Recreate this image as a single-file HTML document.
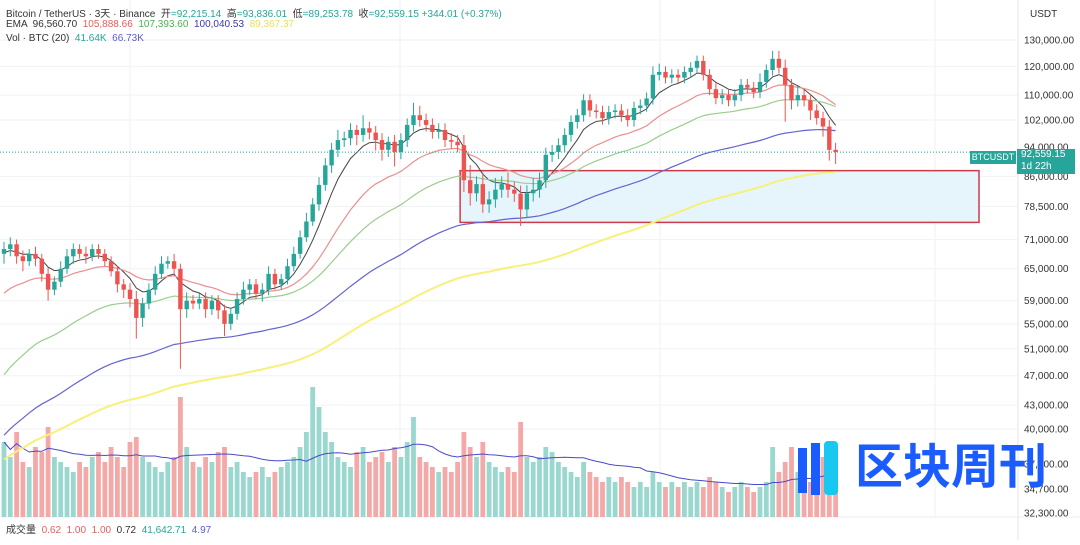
<!DOCTYPE html>
<html><head><meta charset="utf-8">
<style>
body{margin:0;background:#fff;width:1080px;height:540px;overflow:hidden;font-family:"Liberation Sans","Noto Sans CJK SC",sans-serif;}
#wrap{position:relative;width:1080px;height:540px;}
.hdr{position:absolute;left:6px;font-size:10px;color:#333;white-space:nowrap;}
</style></head>
<body>
<div id="wrap">
<svg id="chart" width="1080" height="540"></svg>
<div class="hdr" style="top:5px">Bitcoin / TetherUS · 3天 · Binance &nbsp;开<span style="color:#26a69a">=92,215.14</span> &nbsp;高<span style="color:#26a69a">=93,836.01</span> &nbsp;低<span style="color:#26a69a">=89,253.78</span> &nbsp;收<span style="color:#26a69a">=92,559.15</span> <span style="color:#26a69a">+344.01 (+0.37%)</span></div>
<div class="hdr" style="top:19px">EMA &nbsp;96,560.70 &nbsp;<span style="color:#e06060">105,888.66</span> &nbsp;<span style="color:#4caf50">107,393.60</span> &nbsp;<span style="color:#3838a8">100,040.53</span> &nbsp;<span style="color:#e8e060">89,367.37</span></div>
<div class="hdr" style="top:33px">Vol · BTC (20) &nbsp;<span style="color:#26a69a">41.64K</span> &nbsp;<span style="color:#5c5ccf">66.73K</span></div>
<div class="hdr" style="top:521px">成交量 &nbsp;<span style="color:#e06060">0.62</span> &nbsp;<span style="color:#e06060">1.00</span> &nbsp;<span style="color:#e06060">1.00</span> &nbsp;<span style="color:#333">0.72</span> &nbsp;<span style="color:#26a69a">41,642.71</span> &nbsp;<span style="color:#5c5ccf">4.97</span></div>
<div style="position:absolute;left:1026px;top:7px;font-size:10px;color:#333;background:#fff;padding:2px 4px">USDT</div>
<div style="position:absolute;left:970px;top:151px;width:46px;height:13px;background:#26a69a;color:#fff;font-size:9px;line-height:13px;text-align:center">BTCUSDT</div>
<div style="position:absolute;left:1017px;top:149px;width:58px;height:25px;background:#26a69a;color:#fff;font-size:10px;line-height:12px;padding-left:4px;box-sizing:border-box">92,559.15<br>1d 22h</div>
<div style="position:absolute;left:855px;top:440px;font-size:48px;font-weight:bold;color:#1a5cff;letter-spacing:0px;line-height:56px">区块周刊</div>
</div>
<script>
const closes=[69,70,67.5,66.5,68,67,64,61,62.5,65,67.5,69,68,67.5,69,68,66.5,64.5,62,61,59.3,56,58.5,61,64,66,66.5,65,57.5,59,58.5,59.3,57.5,59,57.3,55,56.7,59.3,61,62,60.3,61,64,62,63,65.5,68,71.5,75,79,83.8,88.9,93.2,96,96.5,99,97.5,99.5,98.2,96,93.2,95.5,92.6,96,100.5,103.5,102,100.5,98.4,99,96,95.5,94.5,85,81.7,84,79,80.2,82.6,84,82.6,81.6,77.8,81.7,82.6,85,91.8,92.6,94.5,97.5,101.4,103.5,108.3,105,104.5,102.6,104.5,105,103.5,102,105.8,106.6,108.9,117,118,116,117,116,118,119.5,122,117,112,109,110,108.3,110,113.5,112.5,111,114.5,118.7,122.8,119.5,113.5,108.3,110,108.3,105,102.6,100,93.2,92.6];
const wickUp=[1.5,1.5,1,1.2,1,1.5,1,1.2,1,1.5,1.5,1.2,1,1.5,1,1,1,1,1,1,1.2,1.5,1,1.2,1.5,1.5,1,1.5,1,1.5,1,1,1.2,1,1,1,1,1.2,1.5,1,1,1.2,1.5,1,1,1.5,1.5,1.5,2,1.5,2,2,2,3,2,2,1.5,4,2,2,2,1.5,2,2,2,4,3,2,2,2,2,2,2,3,4,2,3,2,3,2,3,2,2,2,3,2,2,2,2,2,2,2,2,2,2,2,2,2,2,2,2,2,2,3,3,2,2,2,2,2,2,2,2,2,2,2,2,2,2,2,3,2,3,3,3,2,3,2,2,2,2,2,2];
const wickDn=[2,1.5,1.5,2,1,1.5,1.5,2,1,1,1,1.5,1,1.5,1,1,1,1,1.5,1.5,1.5,3.4,1.5,1,1,1,1,1,9.5,1.5,1,1,1.5,1,1.5,2,1,1,1,1,1,1.5,1,1,1,1,1,1,1,1,1.5,1.5,2,2,2,2,3,2,2,3,3,2,4,2,2,2,2,2,2,2,2,2,2,3,3,2,2,2,2,2,2,2,3.8,2,2,2,2,2,2,2,2,2,2,2,2,2,2,2,2,2,2,2,2,2,2,2,2,2,2,2,2,2,2,2,2,2,2,2,2,2,2,2,2,2,12,3,2,2,3,2,3,3,3.3];
const volumes=[75,60,85,55,50,70,65,90,60,55,50,45,55,50,60,65,55,70,60,50,75,80,60,55,50,45,55,60,120,70,55,50,60,55,65,70,50,55,45,40,45,50,40,45,50,55,60,70,85,130,110,85,75,60,55,50,65,70,55,60,65,55,70,60,75,100,60,55,50,45,50,45,55,85,70,60,75,55,50,45,50,45,95,60,55,60,70,65,55,50,45,40,55,45,40,35,40,35,40,35,30,35,30,45,35,30,35,30,35,30,35,30,40,35,30,25,30,35,30,25,30,35,70,45,55,70,45,40,35,50,60,55,50];
const tickValues=[130000,120000,110000,102000,86000,78500,71000,65000,59000,55000,51000,47000,43000,40000];
const tickLabels=["130,000.00","120,000.00","110,000.00","102,000.00","86,000.00","78,500.00","71,000.00","65,000.00","59,000.00","55,000.00","51,000.00","47,000.00","43,000.00","40,000.00"];
const volTickLabels=["37,700.00","34,700.00","32,300.00"];
const emaSeeds=[68,59.5,46,38.5,36];
const emaPeriods=[7,21,40,80,140];
const lastPrice=92.559;
const zoneTop=87.5, zoneBottom=74.8;

const NS="http://www.w3.org/2000/svg";
const svg=document.getElementById('chart');
function yP(p){return 40+Math.log(130/p)*330;}
function xI(i){return 4+i*6.3;}
function yV(v){return 517-v;}
function mk(tag,attrs,parent){const e=document.createElementNS(NS,tag);for(const k in attrs)e.setAttribute(k,attrs[k]);(parent||svg).appendChild(e);return e;}

const grid=mk('g',{});


tickValues.forEach(v=>{mk('line',{x1:0,x2:1018,y1:yP(v/1000),y2:yP(v/1000),stroke:'#f0f2f6','stroke-width':1},grid);});
[130,400,660,935].forEach(x=>{mk('line',{x1:x,x2:x,y1:0,y2:517,stroke:'#f0f2f6','stroke-width':1},grid);});
mk('line',{x1:1018,x2:1018,y1:0,y2:540,stroke:'#e4e6ec','stroke-width':1},grid);
mk('line',{x1:0,x2:1080,y1:517,y2:517,stroke:'#eceef2','stroke-width':1},grid);

const ax=mk('g',{});


tickValues.forEach((v,i)=>{const t=mk('text',{x:1024,y:yP(v/1000)+3.5,'font-size':10,fill:'#333','font-family':'Liberation Sans'},ax);t.textContent=tickLabels[i];});
[464,489,513].forEach((y,i)=>{const t=mk('text',{x:1024,y:y+3.5,'font-size':10,fill:'#333','font-family':'Liberation Sans'},ax);t.textContent=volTickLabels[i];});
const t94=mk('text',{x:1024,y:yP(94)+3.5,'font-size':10,fill:'#333'},ax);t94.textContent="94,000.00";

const zr=mk('rect',{x:xI(72.4),y:yP(zoneTop),width:979-xI(72.4),height:yP(zoneBottom)-yP(zoneTop),fill:'#e6f5fb',stroke:'#cc3b4a','stroke-width':1.5});



const vg=mk('g',{});


volumes.forEach((v,i)=>{const up=closes[i]>=(i?closes[i-1]:68);mk('rect',{x:xI(i)-2.4,y:yV(v),width:4.8,height:v,fill:up?'#9ad8cf':'#f4a9a9'},vg);});
const ma=[];volumes.forEach((v,i)=>{const s=volumes.slice(Math.max(0,i-19),i+1);ma.push(s.reduce((a,b)=>a+b,0)/s.length);});
const vml=mk('polyline',{points:ma.map((m,i)=>xI(i)+','+yV(m)).join(' '),fill:'none',stroke:'#4a4ac8','stroke-width':1});



const emaColors=['#444','#ea8f8f','#9ccc8f','#6464d0','#f7f07a'];
const emaWidths=[1,1.2,1.2,1.2,2];
const emaNames=['ema-fast','ema-red','ema-green','ema-blue','ema-yellow'];
emaPeriods.forEach((n,k)=>{let e=emaSeeds[k];const a=2/(n+1);const pts=[];closes.forEach((c,i)=>{e=e+a*(c-e);pts.push(xI(i)+','+yP(e));});
 const pl=mk('polyline',{points:pts.join(' '),fill:'none',stroke:emaColors[k],'stroke-width':emaWidths[k]});
 
 });

const cg=mk('g',{});


closes.forEach((c,i)=>{const o=i?closes[i-1]:68;const up=c>=o;const col=up?'#26a69a':'#ef5350';
 const hi=Math.max(o,c)+wickUp[i], lo=Math.min(o,c)-wickDn[i];const x=xI(i);
 mk('line',{x1:x,x2:x,y1:yP(hi),y2:yP(lo),stroke:col,'stroke-width':1},cg);
 const yt=yP(Math.max(o,c)),yb=yP(Math.min(o,c));
 mk('rect',{x:x-2.2,y:yt,width:4.4,height:Math.max(1,yb-yt),fill:col},cg);});

const lp=mk('line',{x1:0,x2:1018,y1:yP(lastPrice),y2:yP(lastPrice),stroke:'#26a69a','stroke-width':1,'stroke-dasharray':'1,2'});



const lg=mk('g',{});


mk('rect',{x:798,y:448,width:9,height:45,fill:'#1a5cff'},lg);
mk('rect',{x:811,y:443,width:9,height:52,fill:'#1a5cff'},lg);
mk('rect',{x:824,y:441,width:14,height:54,rx:4,fill:'#18c8f0'},lg);
</script>
</body></html>
